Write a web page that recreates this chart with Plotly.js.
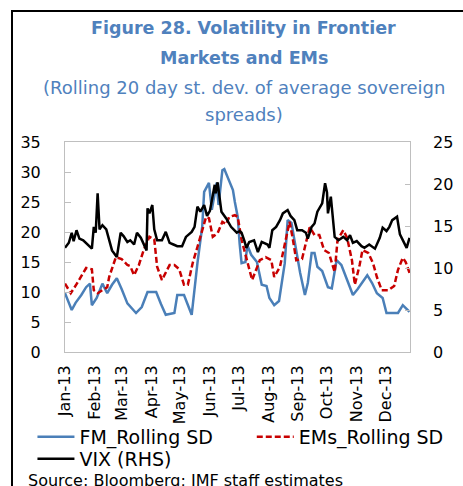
<!DOCTYPE html>
<html>
<head>
<meta charset="utf-8">
<script src="https://cdn.plot.ly/plotly-3.0.1.min.js"></script>
<style>
  html, body { margin: 0; padding: 0; background: #fff; }
  #wrap { position: relative; width: 463px; height: 486px; overflow: hidden; }
  #chart { position: absolute; left: 0; top: 0; width: 463px; height: 486px; }
  #frame { position: absolute; left: 11px; top: 10px; width: 600px; height: 600px;
           border-left: 2px solid #000; border-top: 2px solid #000; pointer-events: none; }
</style>
</head>
<body>
<div id="wrap"><div id="chart"></div><div id="frame"></div></div>
<script>
// ---- Data ----
const fmDates = ['2013-01-01','2013-01-04','2013-01-08','2013-01-12','2013-01-18','2013-01-23','2013-01-27','2013-01-29','2013-02-03','2013-02-09','2013-02-14','2013-02-19','2013-02-24','2013-03-01','2013-03-07','2013-03-16','2013-03-22','2013-03-28','2013-04-06','2013-04-11','2013-04-16','2013-04-25','2013-04-28','2013-05-05','2013-05-13','2013-05-19','2013-05-24','2013-05-26','2013-05-31','2013-06-03','2013-06-08','2013-06-10','2013-06-14','2013-06-16','2013-06-21','2013-06-25','2013-06-27','2013-06-30','2013-07-02','2013-07-04','2013-07-08','2013-07-10','2013-07-14','2013-07-20','2013-07-25','2013-07-30','2013-08-02','2013-08-07','2013-08-12','2013-08-18','2013-08-21','2013-08-25','2013-08-28','2013-09-03','2013-09-08','2013-09-11','2013-09-15','2013-09-18','2013-09-21','2013-09-26','2013-10-02','2013-10-06','2013-10-11','2013-10-16','2013-10-22','2013-10-28','2013-11-02','2013-11-12','2013-11-17','2013-11-22','2013-11-28','2013-12-02','2013-12-14','2013-12-19','2013-12-26'];
const fmValues = [9.8,8.6,7.0,8.2,9.5,10.8,11.4,7.8,9.0,11.4,9.8,11.2,12.3,10.5,8.1,6.5,7.5,10.0,10.0,8.0,6.2,6.5,9.5,9.5,6.2,14.8,20.9,26.7,28.2,23.7,28.2,24.5,30.3,30.5,28.5,27.0,25.0,22.5,18.0,14.8,15.0,17.8,16.2,15.0,11.2,11.0,9.0,7.8,8.5,14.8,22.0,21.5,18.7,13.2,9.5,11.5,16.5,16.5,14.2,13.5,10.8,10.6,15.3,14.5,12.0,9.5,10.5,12.8,11.5,9.8,9.0,6.5,6.5,7.8,6.7];

const emDates = ['2013-01-01','2013-01-07','2013-01-13','2013-01-23','2013-01-29','2013-01-31','2013-02-04','2013-02-14','2013-02-16','2013-02-23','2013-03-01','2013-03-07','2013-03-10','2013-03-14','2013-03-19','2013-03-24','2013-03-30','2013-04-04','2013-04-07','2013-04-12','2013-04-20','2013-04-25','2013-04-30','2013-05-05','2013-05-09','2013-05-14','2013-05-19','2013-05-23','2013-05-28','2013-05-31','2013-06-04','2013-06-09','2013-06-14','2013-06-18','2013-06-21','2013-06-27','2013-06-30','2013-07-04','2013-07-10','2013-07-15','2013-07-23','2013-07-29','2013-08-04','2013-08-07','2013-08-13','2013-08-20','2013-08-23','2013-08-26','2013-08-30','2013-09-05','2013-09-08','2013-09-13','2013-09-18','2013-09-23','2013-09-28','2013-10-03','2013-10-09','2013-10-12','2013-10-18','2013-10-22','2013-10-27','2013-10-30','2013-11-04','2013-11-07','2013-11-13','2013-11-18','2013-11-22','2013-11-27','2013-12-04','2013-12-10','2013-12-14','2013-12-19','2013-12-22','2013-12-26'];
const emValues = [11.4,9.8,11.3,14.0,13.8,10.3,9.8,10.8,12.5,15.8,15.5,14.5,14.3,12.8,14.5,17.0,19.2,18.8,14.2,12.0,14.5,14.5,13.8,11.2,11.2,14.8,17.5,19.8,22.5,22.3,19.2,19.8,21.7,21.3,22.5,22.8,22.5,18.7,14.8,12.0,15.3,15.8,15.3,12.5,14.2,19.2,21.7,19.2,15.3,15.5,17.5,20.8,19.5,19.5,17.0,16.5,13.3,18.7,20.3,19.0,15.3,11.2,14.5,17.0,16.5,14.8,12.5,10.3,10.3,11.0,13.7,15.7,15.0,13.2];

const vixDates = ['2013-01-01','2013-01-05','2013-01-08','2013-01-10','2013-01-13','2013-01-16','2013-01-20','2013-01-26','2013-01-29','2013-01-31','2013-02-02','2013-02-04','2013-02-06','2013-02-09','2013-02-13','2013-02-19','2013-02-24','2013-02-28','2013-03-03','2013-03-07','2013-03-10','2013-03-14','2013-03-17','2013-03-21','2013-03-27','2013-03-28','2013-03-30','2013-04-02','2013-04-04','2013-04-07','2013-04-12','2013-04-16','2013-04-20','2013-04-24','2013-04-28','2013-05-03','2013-05-07','2013-05-13','2013-05-16','2013-05-19','2013-05-22','2013-05-26','2013-05-29','2013-06-01','2013-06-06','2013-06-07','2013-06-09','2013-06-13','2013-06-18','2013-06-23','2013-06-29','2013-07-02','2013-07-04','2013-07-07','2013-07-09','2013-07-12','2013-07-17','2013-07-21','2013-07-25','2013-07-31','2013-08-02','2013-08-05','2013-08-09','2013-08-13','2013-08-16','2013-08-21','2013-08-24','2013-08-28','2013-08-31','2013-09-05','2013-09-09','2013-09-11','2013-09-15','2013-09-18','2013-09-21','2013-09-26','2013-09-29','2013-10-01','2013-10-02','2013-10-05','2013-10-09','2013-10-13','2013-10-18','2013-10-22','2013-10-25','2013-10-28','2013-11-01','2013-11-06','2013-11-09','2013-11-14','2013-11-20','2013-11-25','2013-11-28','2013-12-02','2013-12-05','2013-12-08','2013-12-13','2013-12-16','2013-12-19','2013-12-23','2013-12-26'];
const vixValues = [12.4,13.0,14.2,13.2,14.5,13.5,13.3,12.7,12.3,14.9,14.2,18.9,14.6,15.1,14.6,12.1,11.3,14.2,13.8,13.1,13.3,12.8,14.2,13.6,12.1,17.1,16.5,17.5,14.6,13.3,13.3,14.3,13.0,12.8,12.6,12.6,13.7,14.3,14.9,17.3,16.7,17.5,16.2,16.8,19.9,18.9,20.2,16.7,15.9,14.9,14.2,14.4,14.2,13.2,12.4,13.1,13.3,11.9,13.1,12.8,12.4,14.5,14.9,15.7,16.5,16.9,16.2,15.7,14.5,14.5,14.2,13.5,14.9,15.3,16.7,17.7,20.1,19.0,16.5,18.5,13.7,13.3,13.7,13.3,13.9,13.0,13.2,12.6,12.4,12.8,12.3,13.6,14.8,14.4,14.9,15.7,16.1,14.0,13.3,12.4,13.6];

const seriesNames = ['FM_Rolling SD', 'EMs_Rolling SD', 'VIX (RHS)'];
const titleLines = ['Figure 28. Volatility in Frontier', 'Markets and EMs'];
const subtitleLines = ['(Rolling 20 day st. dev. of average sovereign', 'spreads)'];
const sourceText = 'Source: Bloomberg; IMF staff estimates';

// ---- Chart ----
const FONT = 'DejaVu Sans, Verdana, sans-serif';
const TITLE_COLOR = '#4F81BD';

const traces = [
  { x: fmDates, y: fmValues, name: seriesNames[0], type: 'scatter', mode: 'lines',
    line: { color: '#4a7fb8', width: 2.5 }, yaxis: 'y', legend: 'legend' },
  { x: emDates, y: emValues, name: seriesNames[1], type: 'scatter', mode: 'lines',
    line: { color: '#c80000', width: 2.5, dash: '6px,3px' }, yaxis: 'y', legend: 'legend2' },
  { x: vixDates, y: vixValues, name: seriesNames[2], type: 'scatter', mode: 'lines',
    line: { color: '#000000', width: 2.5 }, yaxis: 'y2', legend: 'legend3' }
];

function py(pix) { return (352 - pix) / 210; }
function px(pix) { return (pix - 65.5) / 344.5; }

const annotations = [
  { text: '<b>' + titleLines[0] + '</b>', x: 0.518, y: py(28), xref: 'paper', yref: 'paper',
    xanchor: 'center', yanchor: 'middle', showarrow: false, font: { size: 17.5, color: TITLE_COLOR, family: FONT } },
  { text: '<b>' + titleLines[1] + '</b>', x: 0.518, y: py(58), xref: 'paper', yref: 'paper',
    xanchor: 'center', yanchor: 'middle', showarrow: false, font: { size: 17.5, color: TITLE_COLOR, family: FONT } },
  { text: subtitleLines[0], x: 0.518, y: py(87.5), xref: 'paper', yref: 'paper',
    xanchor: 'center', yanchor: 'middle', showarrow: false, font: { size: 18, color: TITLE_COLOR, family: FONT } },
  { text: subtitleLines[1], x: 0.518, y: py(114), xref: 'paper', yref: 'paper',
    xanchor: 'center', yanchor: 'middle', showarrow: false, font: { size: 18, color: TITLE_COLOR, family: FONT } },
  { text: sourceText, x: px(27), y: py(469), xref: 'paper', yref: 'paper',
    xanchor: 'left', yanchor: 'top', showarrow: false, font: { size: 16, color: '#000', family: FONT } }
];

const legendBase = {
  orientation: 'h', xanchor: 'left', yanchor: 'top', itemwidth: 37,
  font: { size: 19, family: FONT, color: '#000' }, bgcolor: 'rgba(0,0,0,0)',
  itemclick: false, itemdoubleclick: false
};

const layout = {
  width: 463, height: 486,
  margin: { l: 65, r: 53, t: 142, b: 134, autoexpand: false },
  paper_bgcolor: '#ffffff', plot_bgcolor: '#ffffff',
  font: { family: FONT, color: '#000', size: 16 },
  showlegend: true,
  xaxis: {
    type: 'date', range: ['2013-01-01', '2013-12-26 12:00'],
    tickmode: 'linear', tick0: '2013-01-01', dtick: 'M1', tickformat: '%b-%y',
    tickangle: -90, ticks: '', showgrid: false, zeroline: false,
    showline: true, linecolor: '#bfbfbf', linewidth: 1, mirror: true,
    tickfont: { size: 16, family: FONT, color: '#000' }, ticklabelstandoff: 6,
    fixedrange: true
  },
  yaxis: {
    range: [0, 35], tickmode: 'linear', tick0: 0, dtick: 5,
    ticks: 'inside', ticklen: 6, tickcolor: '#bfbfbf', tickwidth: 1,
    showgrid: false, zeroline: false, showline: true, linecolor: '#bfbfbf', linewidth: 1, mirror: true,
    tickfont: { size: 16, family: FONT, color: '#000' }, ticklabelstandoff: 20,
    fixedrange: true
  },
  yaxis2: {
    overlaying: 'y', side: 'right', range: [0, 25], tickmode: 'linear', tick0: 0, dtick: 5,
    ticks: 'inside', ticklen: 5, tickcolor: '#bfbfbf', tickwidth: 1,
    showgrid: false, zeroline: false, showline: false,
    tickfont: { size: 16, family: FONT, color: '#000' }, ticklabelstandoff: 22,
    fixedrange: true
  },
  legend: Object.assign({}, legendBase, { x: px(33), y: py(418) }),
  legend2: Object.assign({}, legendBase, { x: px(252), y: py(418) }),
  legend3: Object.assign({}, legendBase, { x: px(33), y: py(440) }),
  annotations: annotations
};

Plotly.newPlot('chart', traces, layout, { displayModeBar: false, staticPlot: true });
</script>
</body>
</html>
